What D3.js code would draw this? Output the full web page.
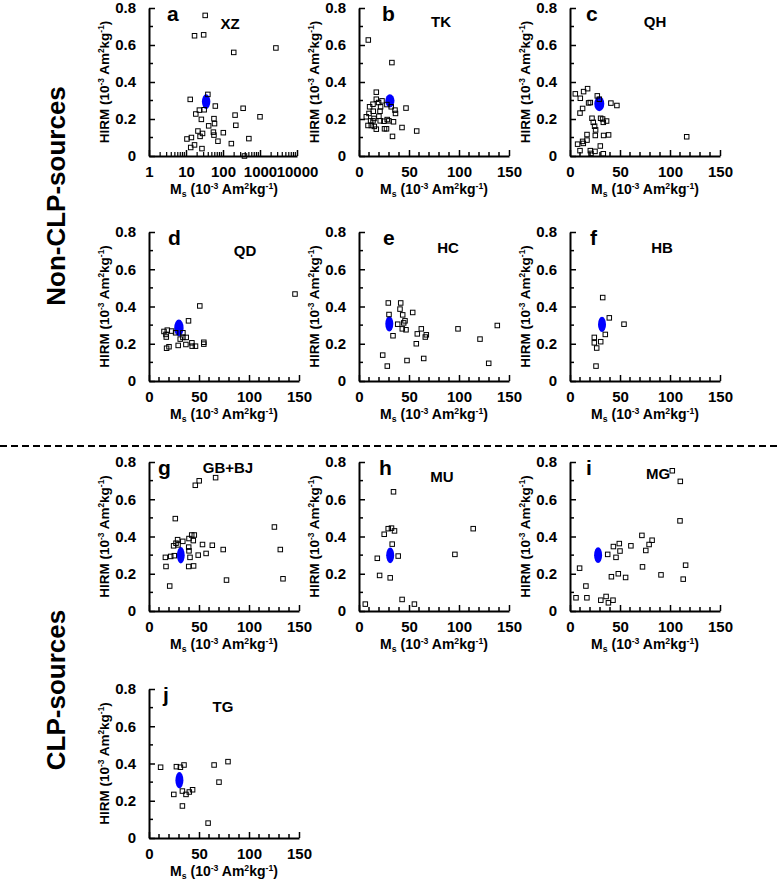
<!DOCTYPE html>
<html><head><meta charset="utf-8">
<script src="https://cdn.jsdelivr.net/npm/d3@7"></script>
<style>
body{margin:0;background:#fff}
svg{display:block}
text{font-family:"Liberation Sans",Arial,Helvetica,sans-serif;font-weight:bold;fill:#000}
</style>
</head><body><svg id="chart" width="778" height="881"></svg>
<script>
// ---------- DATA ----------
const panelLetters = ["a","b","c","d","e","f","g","h","i","j"];
const panelNames = ["XZ","TK","QH","QD","HC","HB","GB+BJ","MU","MG","TG"];
const groupLabels = ["Non-CLP-sources","CLP-sources"];
const xTicksLinear = [0,50,100,150];
const xTicksLog = [1,10,100,1000,10000];
const yTicks = [0,0.2,0.4,0.6,0.8];

// [Ms (10^-3 Am2/kg), HIRM (10^-3 Am2/kg)]
const XZ = [[33,0.76],[17,0.65],[30,0.655],[195,0.56],[2690,0.584],[13,0.306],[39,0.333],[23,0.248],[18.4,0.227],[31,0.25],[62,0.27],[350,0.258],[212,0.221],[1000,0.212],[26,0.198],[57,0.202],[59,0.175],[41,0.163],[222,0.166],[21,0.135],[28,0.122],[24,0.106],[55,0.129],[57,0.113],[102,0.126],[10.6,0.092],[14,0.1],[73,0.08],[500,0.094],[168,0.067],[13.4,0.046],[17,0.06],[27,0.04],[380,0.0]];
const TK = [[9.3,0.627],[32.9,0.505],[17.3,0.345],[47,0.259],[57.7,0.135],[43,0.154],[33.5,0.106],[10.6,0.266],[14,0.28],[17.3,0.307],[19.6,0.289],[21.6,0.266],[23,0.298],[14.3,0.242],[10,0.23],[7.3,0.212],[15,0.203],[9,0.165],[12.3,0.165],[15.3,0.16],[17.3,0.145],[11.6,0.19],[19.9,0.215],[21.2,0.19],[24.9,0.188],[28.2,0.197],[29.9,0.19],[34.5,0.185],[36.5,0.23],[36,0.248],[32.2,0.266],[27.9,0.278],[25.5,0.147],[27.5,0.147],[14,0.19],[21,0.242]];
const QH = [[5.3,0.336],[10.3,0.312],[13.6,0.348],[17.6,0.364],[18.6,0.287],[20.3,0.289],[12.6,0.257],[10,0.232],[27.3,0.325],[29.3,0.307],[40.9,0.286],[46.9,0.273],[22,0.204],[23.3,0.182],[24.6,0.161],[25.6,0.141],[25.3,0.111],[30.6,0.204],[32.6,0.2],[33.3,0.182],[36.6,0.189],[33.6,0.111],[38.6,0.114],[17,0.116],[17,0.086],[12.6,0.079],[13.3,0.068],[7.6,0.064],[10,0.029],[20.3,0.029],[21,0.014],[25,0.025],[30.3,0.054],[33.3,0.012],[116.7,0.104]];
const QD = [[50.8,0.403],[39.5,0.323],[15,0.266],[18.3,0.273],[22.6,0.268],[17,0.25],[17.3,0.236],[26.6,0.259],[33.9,0.259],[31.2,0.225],[33.9,0.234],[37.2,0.234],[29.2,0.191],[36.9,0.196],[42.9,0.205],[43.2,0.187],[46.5,0.187],[54.8,0.208],[54.8,0.198],[20,0.184],[17.6,0.176],[146,0.467]];
const HC = [[29.3,0.419],[41.7,0.419],[30,0.357],[41,0.386],[43.7,0.355],[53.7,0.368],[46,0.323],[44.7,0.312],[38.7,0.305],[47,0.275],[43.3,0.28],[62.3,0.28],[58.3,0.253],[67.3,0.248],[66.3,0.236],[57.3,0.2],[34,0.243],[99,0.28],[121,0.225],[138.3,0.298],[23.7,0.139],[28.3,0.08],[48,0.11],[64.7,0.121],[129.7,0.095]];
const HB = [[32.7,0.448],[39.3,0.339],[54,0.305],[35.3,0.25],[30.7,0.211],[24.3,0.234],[24.3,0.205],[26.7,0.177],[26,0.08]];
const GBBJ = [[46.3,0.675],[50.2,0.699],[66.6,0.716],[26.3,0.496],[125.4,0.451],[131.3,0.33],[134,0.173],[77.5,0.166],[20.7,0.134],[16.4,0.288],[17,0.239],[24.6,0.35],[27,0.364],[28.6,0.383],[33.8,0.374],[29,0.355],[21.7,0.293],[25.3,0.297],[40,0.389],[42.7,0.408],[45.3,0.408],[44.3,0.378],[39.7,0.343],[40,0.323],[41,0.288],[39.7,0.239],[44.6,0.242],[49.2,0.3],[53.5,0.357],[57.1,0.309],[63.3,0.353],[74.2,0.33]];
const MU = [[34.5,0.64],[29.2,0.442],[32.5,0.445],[35.5,0.43],[25.2,0.412],[33.2,0.359],[18.3,0.283],[39.2,0.295],[20.6,0.191],[31.2,0.178],[6.3,0.037],[43.1,0.062],[55.4,0.037],[95.9,0.304],[114.2,0.442]];
const MG = [[102.3,0.753],[110.3,0.696],[110,0.484],[115.6,0.246],[113.2,0.171],[91,0.194],[71.9,0.406],[82.1,0.38],[79.1,0.357],[75.8,0.325],[72.5,0.237],[60.9,0.35],[49.3,0.362],[43.4,0.346],[50,0.322],[46,0.288],[37.7,0.304],[41.4,0.184],[48.3,0.2],[55.6,0.18],[9.6,0.23],[15.9,0.134],[6,0.071],[16.9,0.071],[30.8,0.058],[36.1,0.078],[38.4,0.044],[43,0.058]];
const TG = [[11.6,0.38],[27.4,0.383],[31.4,0.38],[35,0.392],[65.1,0.392],[79,0.41],[70,0.3],[33.4,0.252],[37,0.234],[40.3,0.247],[43.6,0.259],[24.8,0.234],[33.4,0.172],[59.1,0.08]];
const panelData = [XZ,TK,QH,QD,HC,HB,GBBJ,MU,MG,TG];

// CLP mean ellipse (centre and half-axes in data units)
const ellipseMs     = [35, 30.9, 29.3, 29.9, 30.3, 32, 31.8, 31.2, 28.1, 30.4];
const ellipseHirm   = [0.294, 0.298, 0.282, 0.285, 0.307, 0.304, 0.299, 0.299, 0.300, 0.31];
const ellipseMsSd   = [9, 4.6, 5, 4.7, 4, 4, 3.9, 4, 4, 4];
const ellipseHirmSd = [0.04, 0.036, 0.04, 0.045, 0.041, 0.041, 0.044, 0.042, 0.042, 0.044];

// ---------- LAYOUT ----------
const colX = [149, 359, 570];
const rowTop = [8, 232, 462, 689];
const plotW = 150, plotH = 149;
const letterDx = [18, 23, 16, 19, 24, 20, 9, 20, 16, 14];
const nameDx   = [81, 82, 85, 96, 89, 92, 79, 83, 88, 74];
const nameDy   = [21, 19, 19, 24, 21, 21, 11, 20, 17, 23];

const svg = d3.select("#chart");

function supText(sel, parts, size) {
  let shift = 0;
  parts.forEach(([t, type]) => {
    const ts = sel.append("tspan").text(t);
    const target = type === "sup" ? -5 : (type === "sub" ? 3 : 0);
    ts.attr("dy", target - shift);
    shift = target;
    if (type !== "n") ts.attr("font-size", size * 0.62);
  });
}

const titleParts = (first, sub) => {
  const p = [[first, "n"]];
  if (sub) p.push([sub, "sub"]);
  p.push([" (10", "n"], ["-3", "sup"], [" Am", "n"], ["2", "sup"], ["kg", "n"], ["-1", "sup"], [")", "n"]);
  return p;
};

panelLetters.forEach((letter, i) => {
  const row = Math.floor(i / 3), col = i % 3;
  const x0 = colX[col], top = rowTop[row], bottom = top + (row === 0 ? 148 : plotH);
  const isLog = i === 0;
  const x = isLog ? d3.scaleLog().domain([1, 10000]).range([x0, x0 + 148])
                  : d3.scaleLinear().domain([0, 150]).range([x0, x0 + plotW]);
  const y = d3.scaleLinear().domain([0, 0.8]).range([bottom, top]);
  const g = svg.append("g");

  // ellipse
  const cx = x(ellipseMs[i]), cy = y(ellipseHirm[i]);
  const rx = Math.abs(x(ellipseMs[i] + ellipseMsSd[i]) - x(ellipseMs[i] - ellipseMsSd[i])) / 2;
  const ry = Math.abs(y(ellipseHirm[i] + ellipseHirmSd[i]) - y(ellipseHirm[i] - ellipseHirmSd[i])) / 2;
  g.append("ellipse").attr("cx", cx).attr("cy", cy).attr("rx", rx).attr("ry", ry)
    .attr("fill", "#0000ff");

  // points
  const s = 4.5;
  g.selectAll("rect.pt").data(panelData[i]).join("rect").attr("class", "pt")
    .attr("x", d => x(d[0]) - s / 2).attr("y", d => y(d[1]) - s / 2)
    .attr("width", s).attr("height", s)
    .attr("fill", "none").attr("stroke", "#000").attr("stroke-width", 1);

  // y axis
  const yMinor = d3.range(0.1, 0.8, 0.2);
  const yAxis = g.append("g").attr("transform", `translate(${x0},0)`);
  yAxis.call(d3.axisLeft(y).tickValues(yTicks).tickFormat(d => d === 0 ? "0" : d3.format(".1f")(d))
      .tickSizeInner(-6).tickSizeOuter(0).tickPadding(13));
  yAxis.selectAll(".minor").data(yMinor).join("line").attr("class", "minor")
    .attr("x1", 0).attr("x2", 4).attr("y1", d => y(d)).attr("y2", d => y(d))
    .attr("stroke", "#000").attr("stroke-width", 1.5);

  // x axis
  const xAxis = g.append("g").attr("transform", `translate(0,${bottom})`);
  if (isLog) {
    xAxis.call(d3.axisBottom(x).tickValues(xTicksLog).tickFormat(d3.format("d"))
        .tickSizeInner(-6).tickSizeOuter(0).tickPadding(10));
    const minor = [];
    for (let dec = 1; dec < 10000; dec *= 10) for (let k = 2; k <= 9; k++) minor.push(dec * k);
    xAxis.selectAll(".minor").data(minor).join("line").attr("class", "minor")
      .attr("x1", d => x(d)).attr("x2", d => x(d)).attr("y1", 0).attr("y2", -4)
      .attr("stroke", "#000").attr("stroke-width", 1.2);
  } else {
    xAxis.call(d3.axisBottom(x).tickValues(xTicksLinear).tickFormat(d3.format("d"))
        .tickSizeInner(-6).tickSizeOuter(0).tickPadding(10));
    const minor = d3.range(10, 150, 10).filter(v => v % 50 !== 0);
    xAxis.selectAll(".minor").data(minor).join("line").attr("class", "minor")
      .attr("x1", d => x(d)).attr("x2", d => x(d)).attr("y1", 0).attr("y2", -4)
      .attr("stroke", "#000").attr("stroke-width", 1.5);
  }
  g.selectAll(".domain").attr("stroke", "#000").attr("stroke-width", 2);
  g.selectAll(".tick line").attr("stroke", "#000").attr("stroke-width", 1.5);
  g.selectAll(".tick text").attr("font-size", 15).attr("font-family", "Liberation Sans, Arial, sans-serif")
    .attr("font-weight", "bold").attr("fill", "#000");

  // titles
  const xt = g.append("text").attr("x", x0 + 75).attr("y", bottom + 38)
    .attr("text-anchor", "middle").attr("font-size", 14);
  supText(xt, titleParts("M", "s"), 14);
  const yt = g.append("text").attr("transform", `translate(${x0 - 40},${(top + bottom) / 2}) rotate(-90)`)
    .attr("text-anchor", "middle").attr("font-size", 13.5);
  supText(yt, titleParts("HIRM", null), 13.5);

  // panel letter and name
  g.append("text").attr("x", x0 + letterDx[i]).attr("y", top + 13).attr("font-size", 21).text(letter);
  g.append("text").attr("x", x0 + nameDx[i]).attr("y", top + nameDy[i])
    .attr("text-anchor", "middle").attr("font-size", 15).text(panelNames[i]);
});

// group labels
svg.append("text").attr("transform", "translate(65,196) rotate(-90)")
  .attr("text-anchor", "middle").attr("font-size", 26).text(groupLabels[0]);
svg.append("text").attr("transform", "translate(65,690) rotate(-90)")
  .attr("text-anchor", "middle").attr("font-size", 26).text(groupLabels[1]);

// separator
svg.append("line").attr("x1", 0).attr("x2", 778).attr("y1", 446).attr("y2", 446)
  .attr("stroke", "#000").attr("stroke-width", 1.8).attr("stroke-dasharray", "7,4");
</script>
</body></html>
